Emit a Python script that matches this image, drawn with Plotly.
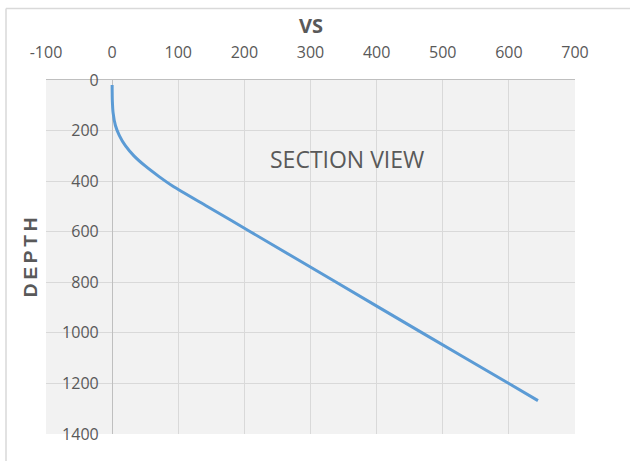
import plotly.graph_objects as go

# Well trajectory: measured depth vs. vertical section
depth = [20, 80, 130, 180, 220, 260, 300, 340, 380, 420, 500, 600, 800, 1000, 1200, 1268]
vs = [0, 0.3, 1.5, 5, 11, 20, 33, 50, 70, 92, 144, 209, 339, 469, 600, 644]

x_ticks = [-100, 0, 100, 200, 300, 400, 500, 600, 700]
y_ticks = [0, 200, 400, 600, 800, 1000, 1200, 1400]

FONT = "Open Sans, sans-serif"
GRAY = "#595959"

fig = go.Figure()
fig.add_trace(go.Scatter(
    x=vs, y=depth, mode="lines", line_shape="spline",
    line=dict(color="#5b9bd5", width=3, smoothing=0.6),
    showlegend=False, hoverinfo="skip",
))

fig.update_layout(
    width=630, height=461,
    margin=dict(l=46, r=55, t=80, b=27),
    paper_bgcolor="white",
    plot_bgcolor="#f2f2f2",
    font=dict(family=FONT, color=GRAY),
    xaxis=dict(
        side="top", range=[-100, 700], tickvals=x_ticks,
        ticktext=[str(v) for v in x_ticks],
        showgrid=True, gridcolor="#d9d9d9", gridwidth=1,
        zeroline=True, zerolinecolor="#bfbfbf", zerolinewidth=1,
        showline=True, linecolor="#bfbfbf", linewidth=1,
        ticks="", tickfont=dict(size=16, color=GRAY, family=FONT),
        ticklabelstandoff=15, automargin=False,
    ),
    yaxis=dict(
        range=[1400, 0], tickvals=y_ticks,
        ticktext=[str(v) for v in y_ticks],
        showgrid=True, gridcolor="#d9d9d9", gridwidth=1,
        zeroline=False, showline=False,
        anchor="free", position=(111.7 - 46) / 529,
        ticks="", tickfont=dict(size=16, color=GRAY, family=FONT),
        ticklabelstandoff=13, automargin=False,
    ),
    shapes=[
        # chart area frame (top and left edges)
        dict(type="line", xref="paper", yref="paper",
             x0=-0.0756, x1=1.3, y0=1.202, y1=1.202,
             line=dict(color="#d9d9d9", width=1.5), layer="below"),
        dict(type="line", xref="paper", yref="paper",
             x0=-0.0756, x1=-0.0756, y0=1.202, y1=-0.3,
             line=dict(color="#d9d9d9", width=1.5), layer="below"),
    ],
    annotations=[
        dict(text="<b>VS</b>", xref="paper", yref="paper", x=0.5, y=1.153,
             xanchor="center", yanchor="middle", showarrow=False,
             font=dict(size=20, color=GRAY, family=FONT)),
        dict(text="<b>D\u2009E\u2009P\u2009T\u2009H</b>", xref="paper", yref="paper",
             x=-0.030, y=0.5, xanchor="center", yanchor="middle",
             textangle=-90, showarrow=False,
             font=dict(size=19, color=GRAY, family="Liberation Sans, Arial, sans-serif")),
        dict(text="SECTION VIEW", xref="x", yref="y", x=355, y=313,
             xanchor="center", yanchor="middle", showarrow=False,
             font=dict(size=23, color=GRAY, family=FONT)),
    ],
)

fig.write_html("out.html")
